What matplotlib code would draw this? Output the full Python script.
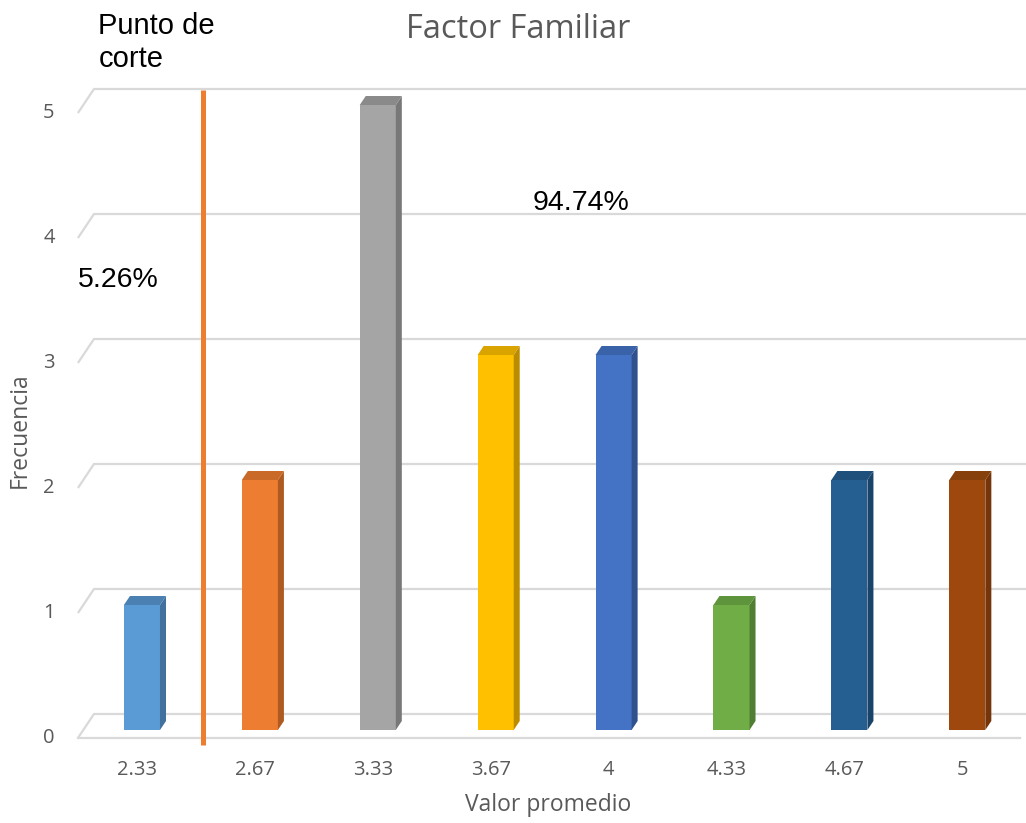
import matplotlib
matplotlib.use("Agg")
import matplotlib.pyplot as plt
from matplotlib.patches import Polygon, Rectangle

categories = ["2.33", "2.67", "3.33", "3.67", "4", "4.33", "4.67", "5"]
frequencies = [1, 2, 5, 3, 3, 1, 2, 2]
front_colors = ["#5B9BD5", "#ED7D31", "#A5A5A5", "#FFC000",
                "#4472C4", "#70AD47", "#255E91", "#9E480E"]
side_colors = ["#41719C", "#AE5A21", "#787878", "#BC8C00",
               "#2F528F", "#507E32", "#1A4368", "#733509"]
top_colors = ["#4A80B2", "#C96A28", "#8A8A8A", "#D9A300",
              "#3A62A8", "#5E943B", "#1F507C", "#85400C"]
y_ticks = [0, 1, 2, 3, 4, 5]
cut_position = 0.517
pct_below = "5.26%"
pct_above = "94.74%"

W, H, DPI = 1026, 823, 100
fig = plt.figure(figsize=(W / DPI, H / DPI), dpi=DPI)
ax = fig.add_axes([0, 0, 1, 1])
ax.set_xlim(-1.204, 7.498)
ax.set_ylim(-0.744, 5.84)
ax.axis("off")

grid_c = "#D9D9D9"
text_c = "#595959"
ui_font = ["Open Sans", "DejaVu Sans"]
ar_font = ["Liberation Sans", "DejaVu Sans"]

# floor/back offsets of the pseudo-3D frame
back_dy = 0.128
front_dy = -0.064
x_front = -0.543
x_back = -0.407
x_end = 7.498

for k in y_ticks:
    ax.plot([x_front, x_back, x_end], [k + front_dy, k + back_dy, k + back_dy],
            color=grid_c, lw=1.6, zorder=1, solid_capstyle="butt")
    ax.text(-0.789, k + front_dy, str(k), ha="center", va="center",
            fontsize=14.5, color=text_c, family=ui_font)
# front floor edge
ax.plot([x_front, 7.45], [front_dy, front_dy], color=grid_c, lw=1.6, zorder=1)

# 3D-looking columns
hw = 0.153
ddx, ddy = 0.051, 0.072
for i, (v, fc, sc, tc) in enumerate(zip(frequencies, front_colors, side_colors, top_colors)):
    x0, x1 = i - hw, i + hw
    ax.add_patch(Rectangle((x0, 0), 2 * hw, v, facecolor=fc, edgecolor="none", zorder=3))
    ax.add_patch(Polygon([(x1, 0), (x1 + ddx, ddy), (x1 + ddx, v + ddy), (x1, v)],
                         closed=True, facecolor=sc, edgecolor="none", zorder=3))
    ax.add_patch(Polygon([(x0, v), (x0 + ddx, v + ddy), (x1 + ddx, v + ddy), (x1, v)],
                         closed=True, facecolor=tc, edgecolor="none", zorder=3))
    ax.text(i - 0.042, -0.32, categories[i], ha="center", va="center",
            fontsize=14.5, color=text_c, family=ui_font)

# cut-off line
ax.plot([cut_position, cut_position], [-0.12, 5.12], color="#ED7D31", lw=3.6,
        zorder=4, solid_capstyle="butt")

ax.text(3.19, 5.6, "Factor Familiar", ha="center", va="center",
        fontsize=23.5, color=text_c, family=ui_font)
ax.text(3.444, -0.6, "Valor promedio", ha="center", va="center",
        fontsize=16.5, color=text_c, family=ui_font)
ax.text(-1.035, 2.4, "Frecuencia", ha="center", va="center", rotation=90,
        fontsize=16.5, color=text_c, family=ui_font)

ax.text(-0.37, 5.74, "Punto de\ncorte", ha="left", va="top",
        fontsize=21, color="black", family=ar_font, linespacing=1.22)
ax.text(-0.543, 3.6, pct_below, ha="left", va="center",
        fontsize=20.5, color="black", family=ar_font)
ax.text(3.31, 4.22, pct_above, ha="left", va="center",
        fontsize=20.5, color="black", family=ar_font)

fig.savefig("out.png", dpi=DPI)
